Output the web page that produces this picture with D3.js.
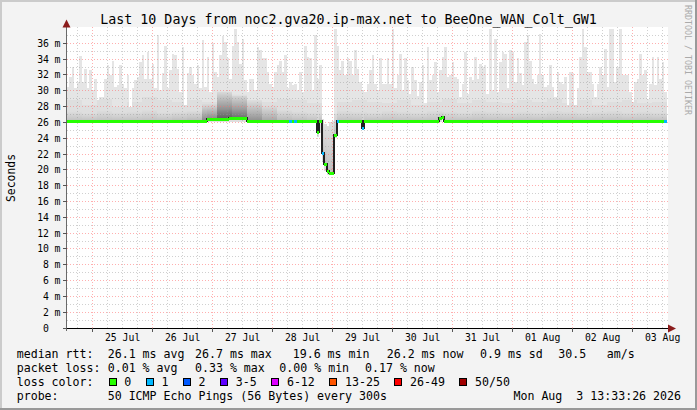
<!DOCTYPE html>
<html>
<head>
<meta charset="utf-8">
<script src="https://d3js.org/d3.v7.min.js"></script>
<style>
  body { margin: 0; background: #f3f3f3; }
  text { font-family: "DejaVu Sans Mono", monospace; }
</style>
</head>
<body>
<svg id="chart"></svg>
<script>
// ---- data (values in ms, one bar per hour) ----
var smokeMax = [
  30.5, 31.7, 33.0, 30.3, 31.1, 34.4, 31.1, 32.8, 30.3, 32.6, 30.1, 31.5, 28.8, 29.2, 29.2, 31.5, 33.3, 32.0, 33.8, 30.5,
  30.7, 33.2, 30.9, 30.3, 32.0, 28.0, 30.3, 31.3, 31.7, 33.6, 34.5, 31.5, 34.9, 31.5, 33.4, 30.3, 37.0, 30.1, 32.2, 35.7,
  30.3, 32.6, 34.7, 34.5, 32.8, 29.9, 35.5, 28.2, 32.2, 33.0, 32.0, 30.9, 33.2, 30.3, 36.4, 30.5, 34.3, 29.9, 36.0, 32.4,
  31.7, 34.5, 36.9, 36.2, 34.1, 31.5, 35.7, 37.8, 36.2, 33.4, 36.6, 31.3, 29.9, 31.5, 31.5, 30.1, 35.5, 35.1, 34.1, 34.1,
  32.4, 30.9, 30.5, 32.4, 33.2, 33.8, 32.4, 34.5, 30.3, 31.1, 30.7, 30.9, 30.1, 32.4, 29.9, 35.7, 34.3, 34.1, 30.1, 37.0,
  31.5, 33.2, 26.4, 25.8, 25.6, 26.0, 26.2, 37.8, 35.7, 32.6, 33.8, 32.0, 34.1, 33.8, 32.0, 35.1, 32.8, 31.1, 30.1, 29.9,
  30.9, 32.6, 34.5, 30.9, 30.1, 34.1, 30.9, 30.9, 34.1, 30.9, 37.8, 30.3, 32.0, 34.7, 30.1, 34.1, 31.3, 29.6, 33.0, 31.3,
  29.4, 31.1, 33.2, 28.4, 35.5, 31.3, 32.0, 33.6, 29.9, 32.6, 34.3, 35.5, 31.7, 32.0, 33.6, 31.7, 31.5, 29.2, 30.9, 34.9,
  29.6, 31.7, 31.3, 34.3, 31.5, 33.4, 33.0, 33.2, 29.6, 37.8, 30.1, 36.6, 29.9, 33.6, 34.9, 34.7, 30.3, 35.1, 34.9, 31.1,
  34.1, 32.2, 30.7, 36.2, 37.0, 33.8, 31.5, 30.9, 32.0, 37.2, 32.0, 30.5, 30.7, 33.2, 30.5, 29.2, 32.4, 31.1, 30.9, 31.7,
  28.2, 32.4, 32.2, 28.2, 30.3, 34.3, 37.8, 35.5, 32.4, 32.4, 30.9, 29.2, 30.9, 33.0, 32.0, 35.3, 30.5, 37.8, 37.8, 31.1,
  33.0, 37.8, 32.0, 32.0, 32.0, 29.9, 28.6, 31.1, 31.5, 34.7, 32.0, 32.6, 29.0, 30.9, 34.3, 30.7, 34.3, 31.5, 33.6, 29.9
];

var smokeMin = [
  25.9, 25.9, 25.9, 25.9, 25.9, 25.9, 25.9, 25.9, 25.9, 25.9, 25.9, 25.9, 25.9, 25.9, 25.9, 25.9, 25.9, 25.9, 25.9, 25.9,
  25.9, 25.9, 25.9, 25.9, 25.9, 25.9, 25.9, 25.9, 25.9, 25.9, 25.9, 25.9, 25.9, 25.9, 25.9, 25.9, 25.9, 25.9, 25.9, 25.9,
  25.9, 25.9, 25.9, 25.9, 25.9, 25.9, 25.9, 25.9, 25.9, 25.9, 25.9, 25.9, 25.9, 25.9, 25.9, 25.9, 26.0, 26.0, 26.0, 26.0,
  26.0, 26.0, 26.0, 26.0, 26.0, 26.1, 26.1, 26.1, 26.1, 26.1, 26.1, 26.1, 25.9, 25.9, 25.9, 25.9, 25.9, 25.9, 25.9, 25.9,
  25.9, 25.9, 25.9, 25.9, 25.9, 25.9, 25.9, 25.9, 25.9, 25.9, 25.9, 25.9, 25.9, 25.9, 25.9, 25.9, 25.9, 25.9, 25.9, 25.9,
  24.2, 24.6, 21.0, 19.9, 19.4, 19.3, 19.4, 24.0, 25.9, 25.9, 25.9, 25.9, 25.9, 25.9, 25.9, 25.9, 25.9, 25.9, 25.0, 25.9,
  25.9, 25.9, 25.9, 25.9, 25.9, 25.9, 25.9, 25.9, 25.9, 25.9, 25.9, 25.9, 25.9, 25.9, 25.9, 25.9, 25.9, 25.9, 25.9, 25.9,
  25.9, 25.9, 25.9, 25.9, 25.9, 25.9, 25.9, 25.9, 25.9, 26.1, 26.3, 25.9, 25.9, 25.9, 25.9, 25.9, 25.9, 25.9, 25.9, 25.9,
  25.9, 25.9, 25.9, 25.9, 25.9, 25.9, 25.9, 25.9, 25.9, 25.9, 25.9, 25.9, 25.9, 25.9, 25.9, 25.9, 25.9, 25.9, 25.9, 25.9,
  25.9, 25.9, 25.9, 25.9, 25.9, 25.9, 25.9, 25.9, 25.9, 25.9, 25.9, 25.9, 25.9, 25.9, 25.9, 25.9, 25.9, 25.9, 25.9, 25.9,
  25.9, 25.9, 25.9, 25.9, 25.9, 25.9, 25.9, 25.9, 25.9, 25.9, 25.9, 25.9, 25.9, 25.9, 25.9, 25.9, 25.9, 25.9, 25.9, 25.9,
  25.9, 25.9, 25.9, 25.9, 25.9, 25.9, 25.9, 25.9, 25.9, 25.9, 25.9, 25.9, 25.9, 25.9, 25.9, 25.9, 25.9, 25.9, 25.9, 25.9
];

var median = [
  26.2, 26.2, 26.2, 26.2, 26.2, 26.2, 26.2, 26.2, 26.2, 26.2, 26.2, 26.2, 26.2, 26.2, 26.2, 26.2, 26.2, 26.2, 26.2, 26.2,
  26.2, 26.2, 26.2, 26.2, 26.2, 26.2, 26.2, 26.2, 26.2, 26.2, 26.2, 26.2, 26.2, 26.2, 26.2, 26.2, 26.2, 26.2, 26.2, 26.2,
  26.2, 26.2, 26.2, 26.2, 26.2, 26.2, 26.2, 26.2, 26.2, 26.2, 26.2, 26.2, 26.2, 26.2, 26.2, 26.2, 26.4, 26.4, 26.4, 26.4,
  26.4, 26.4, 26.4, 26.4, 26.4, 26.5, 26.5, 26.5, 26.5, 26.5, 26.5, 26.5, 26.2, 26.2, 26.2, 26.2, 26.2, 26.2, 26.2, 26.2,
  26.2, 26.2, 26.2, 26.2, 26.2, 26.2, 26.2, 26.2, 26.2, 26.2, 26.2, 26.2, 26.2, 26.2, 26.2, 26.2, 26.2, 26.2, 26.2, 26.2,
  24.8, 26.2, 22.1, 20.7, 19.8, 19.6, 19.6, 24.4, 26.2, 26.2, 26.2, 26.2, 26.2, 26.2, 26.2, 26.2, 26.2, 26.2, 25.3, 26.2,
  26.2, 26.2, 26.2, 26.2, 26.2, 26.2, 26.2, 26.2, 26.2, 26.2, 26.2, 26.2, 26.2, 26.2, 26.2, 26.2, 26.2, 26.2, 26.2, 26.2,
  26.2, 26.2, 26.2, 26.2, 26.2, 26.2, 26.2, 26.2, 26.2, 26.5, 26.7, 26.2, 26.2, 26.2, 26.2, 26.2, 26.2, 26.2, 26.2, 26.2,
  26.2, 26.2, 26.2, 26.2, 26.2, 26.2, 26.2, 26.2, 26.2, 26.2, 26.2, 26.2, 26.2, 26.2, 26.2, 26.2, 26.2, 26.2, 26.2, 26.2,
  26.2, 26.2, 26.2, 26.2, 26.2, 26.2, 26.2, 26.2, 26.2, 26.2, 26.2, 26.2, 26.2, 26.2, 26.2, 26.2, 26.2, 26.2, 26.2, 26.2,
  26.2, 26.2, 26.2, 26.2, 26.2, 26.2, 26.2, 26.2, 26.2, 26.2, 26.2, 26.2, 26.2, 26.2, 26.2, 26.2, 26.2, 26.2, 26.2, 26.2,
  26.2, 26.2, 26.2, 26.2, 26.2, 26.2, 26.2, 26.2, 26.2, 26.2, 26.2, 26.2, 26.2, 26.2, 26.2, 26.2, 26.2, 26.2, 26.2, 26.2
];

// lost pings per bar
var loss = [
  0, 0, 0, 0, 0, 0, 0, 0, 0, 0, 0, 0, 0, 0, 0, 0, 0, 0, 0, 0,
  0, 0, 0, 0, 0, 0, 0, 0, 0, 0, 0, 0, 0, 0, 0, 0, 0, 0, 0, 0,
  0, 0, 0, 0, 0, 0, 0, 0, 0, 0, 0, 0, 0, 0, 0, 0, 0, 0, 0, 0,
  0, 0, 0, 0, 0, 0, 0, 0, 0, 0, 0, 0, 0, 0, 0, 0, 0, 0, 0, 0,
  0, 0, 0, 0, 0, 0, 0, 0, 0, 1, 0, 1, 0, 0, 0, 0, 0, 0, 0, 0,
  0, 0, 1, 0, 0, 0, 0, 0, 1, 0, 0, 0, 0, 0, 0, 0, 0, 0, 1, 0,
  0, 0, 0, 0, 0, 0, 0, 0, 0, 0, 0, 0, 0, 0, 0, 0, 0, 0, 0, 0,
  0, 0, 0, 0, 0, 0, 0, 0, 0, 0, 0, 0, 0, 0, 0, 0, 0, 0, 0, 0,
  0, 0, 0, 0, 0, 0, 0, 0, 0, 0, 0, 0, 0, 0, 0, 0, 0, 0, 0, 0,
  0, 0, 0, 0, 0, 0, 0, 0, 0, 0, 0, 0, 0, 0, 0, 0, 0, 0, 0, 0,
  0, 0, 0, 0, 0, 0, 0, 0, 0, 0, 0, 0, 0, 0, 0, 0, 0, 0, 0, 0,
  0, 0, 0, 0, 0, 0, 0, 0, 0, 0, 0, 0, 0, 0, 0, 0, 0, 0, 0, 1
];

// inner smoke, one value per 6 hours
var smokeMid = [
  28.8, 28.2, 29.0, 28.0, 28.6, 29.2, 28.8, 28.6, 28.8, 28.6,
  29.9, 29.4, 28.8, 28.6, 29.0, 28.8, 28.4, 27.0, 28.6, 28.8,
  28.6, 28.4, 28.8, 28.2, 28.6, 29.0, 28.4, 28.8, 28.6, 28.4,
  28.8, 28.6, 29.0, 28.4, 28.8, 28.2, 28.6, 28.8, 28.4, 28.6
];
var smokeCore = [
  27.4, 27.2, 27.5, 27.3, 27.4, 27.6, 27.3, 27.4, 27.5, 28.4,
  30.0, 29.6, 28.8, 28.2, 27.6, 27.4, 27.3, 27.3, 27.5, 27.4,
  27.3, 27.5, 27.4, 27.3, 27.5, 27.4, 27.3, 27.5, 27.4, 27.3,
  27.4, 27.3, 27.5, 27.4, 27.3, 27.4, 27.5, 27.3, 27.4, 27.3
];
var coreShade = [
  0.14, 0.14, 0.14, 0.14, 0.14, 0.14, 0.14, 0.16, 0.18, 0.40,
  0.58, 0.52, 0.36, 0.26, 0.18, 0.16, 0.14, 0.14, 0.14, 0.14,
  0.14, 0.14, 0.14, 0.14, 0.14, 0.14, 0.14, 0.14, 0.14, 0.14,
  0.14, 0.14, 0.14, 0.14, 0.14, 0.14, 0.14, 0.14, 0.14, 0.14
];

var lossLabels = ["0", "1", "2", "3-5", "6-12", "13-25", "26-49", "50/50"];
var lossColors = ["#26ff00", "#00b8ff", "#0059ff", "#5e00ff", "#dd00ff", "#ff5500", "#ff0000", "#a10000"];
var lossUpper  = [0, 1, 2, 5, 12, 25, 49, 50];

var titleText = "Last 10 Days from noc2.gva20.ip-max.net to BeeOne_WAN_Colt_GW1";
var rttStats  = ["median rtt:", "26.1 ms avg", "26.7 ms max", "19.6 ms min", "26.2 ms now", "0.9 ms sd", "30.5", "am/s"];
var lossStats = ["packet loss:", "0.01 % avg", "0.33 % max", "0.00 % min", "0.17 % now"];
var probeText = ["probe:", "50 ICMP Echo Pings (56 Bytes) every 300s", "Mon Aug  3 13:33:26 2026"];

var tStart = new Date(Date.UTC(2026, 6, 24, 13, 33, 26));
var tEnd   = new Date(Date.UTC(2026, 7, 3, 13, 33, 26));
var yTicks = d3.range(0, 37, 2);

// ---- layout ----
var W = 697, H = 410;
var svg = d3.select("#chart").attr("width", W).attr("height", H);

var x = d3.scaleUtc().domain([tStart, tEnd]).range([66.5, 666.5]);
var y = d3.scaleLinear().domain([0, 38]).range([328, 27.5]);

function px(v) { return Math.floor(v) + 0.5; }
function lossColor(l) {
  for (var k = 0; k < lossUpper.length; k++) if (l <= lossUpper[k]) return lossColors[k];
  return lossColors[lossColors.length - 1];
}

// frame
svg.append("rect").attr("width", W).attr("height", H).attr("fill", "#f3f3f3");
svg.append("path").attr("d", "M1,409V1H697").attr("fill", "none").attr("stroke", "#cbcbcb").attr("stroke-width", 2);
svg.append("path").attr("d", "M0,409H696V0").attr("fill", "none").attr("stroke", "#999").attr("stroke-width", 2);

// canvas
svg.append("rect").attr("x", 67).attr("y", 27).attr("width", 601).attr("height", 301).attr("fill", "#fff");

// smoke
var bars = d3.range(smokeMax.length).map(function(i) {
  var t0 = d3.utcHour.offset(tStart, i), t1 = d3.utcHour.offset(tStart, i + 1);
  var s = Math.floor(i / 6);
  return {
    i: i, x0: Math.round(x(t0)), x1: Math.round(x(t1)),
    max: smokeMax[i], min: smokeMin[i], med: median[i],
    mid: Math.min(smokeMid[s], smokeMax[i]),
    core: Math.min(smokeCore[s], smokeMax[i]),
    seg: s, loss: loss[i]
  };
});

var defs = svg.append("defs");
smokeCore.forEach(function(c, s) {
  var g = defs.append("linearGradient").attr("id", "core" + s)
    .attr("x1", 0).attr("y1", 1).attr("x2", 0).attr("y2", 0);
  g.append("stop").attr("offset", 0).attr("stop-color", "#000").attr("stop-opacity", coreShade[s]);
  g.append("stop").attr("offset", 0.35).attr("stop-color", "#000").attr("stop-opacity", coreShade[s] * 0.6);
  g.append("stop").attr("offset", 1).attr("stop-color", "#000").attr("stop-opacity", 0);
});

var smoke = svg.append("g").attr("shape-rendering", "crispEdges");
smoke.selectAll("rect.outer").data(bars).enter().append("rect")
  .attr("x", function(d) { return d.x0; })
  .attr("width", function(d) { return d.x1 - d.x0; })
  .attr("y", function(d) { return y(d.max); })
  .attr("height", function(d) { return y(d.min) - y(d.max); })
  .attr("fill", "#e5e5e5");
smoke.selectAll("rect.mid").data(bars).enter().append("rect")
  .attr("x", function(d) { return d.x0; })
  .attr("width", function(d) { return d.x1 - d.x0; })
  .attr("y", function(d) { return y(d.mid); })
  .attr("height", function(d) { return Math.max(0, y(d.min) - y(d.mid)); })
  .attr("fill", "#dedede");
smoke.selectAll("rect.core").data(bars.filter(function(d) { return d.core > d.med; })).enter().append("rect")
  .attr("x", function(d) { return d.x0; })
  .attr("width", function(d) { return d.x1 - d.x0; })
  .attr("y", function(d) { return y(d.core); })
  .attr("height", function(d) { return y(d.med) - y(d.core); })
  .attr("fill", function(d) { return "url(#core" + d.seg + ")"; });

// grid
var grid = svg.append("g").attr("shape-rendering", "crispEdges").attr("stroke-width", 1);
var hours = d3.utcHour.every(6).range(tStart, tEnd);
var days = d3.utcDay.range(tStart, tEnd);
grid.selectAll("line.vmin").data(hours.filter(function(t) { return t.getUTCHours() !== 0; })).enter().append("line")
  .attr("x1", function(t) { return px(x(t)); }).attr("x2", function(t) { return px(x(t)); })
  .attr("y1", 27).attr("y2", 328)
  .attr("stroke", "rgba(150,150,150,0.45)").attr("stroke-dasharray", "1,2");
d3.range(1, 38).filter(function(m) { return m % 2 === 1; }).forEach(function(m) {
  grid.append("line").attr("x1", 67).attr("x2", 668).attr("y1", px(y(m))).attr("y2", px(y(m)))
    .attr("stroke", "rgba(150,150,150,0.45)").attr("stroke-dasharray", "1,2");
});
grid.selectAll("line.vmaj").data(days).enter().append("line")
  .attr("x1", function(t) { return px(x(t)); }).attr("x2", function(t) { return px(x(t)); })
  .attr("y1", 27).attr("y2", 328)
  .attr("stroke", "rgba(255,110,110,0.55)").attr("stroke-dasharray", "1,2");
grid.selectAll("line.hmaj").data(yTicks.filter(function(m) { return m > 0; })).enter().append("line")
  .attr("x1", 67).attr("x2", 668)
  .attr("y1", function(m) { return px(y(m)); }).attr("y2", function(m) { return px(y(m)); })
  .attr("stroke", "rgba(255,110,110,0.55)").attr("stroke-dasharray", "1,2");

// median: thin dark step line, then thick loss-coloured pieces
var stepLine = d3.line().curve(d3.curveStepAfter)
  .x(function(d) { return d.x0; }).y(function(d) { return y(d.med); });
svg.append("path").datum(bars.concat([{ x0: bars[bars.length - 1].x1, med: median[median.length - 1] }]))
  .attr("d", stepLine).attr("fill", "none").attr("stroke", "#202020").attr("stroke-width", 2)
  .attr("shape-rendering", "crispEdges");
svg.append("g").attr("shape-rendering", "crispEdges").selectAll("rect").data(bars).enter().append("rect")
  .attr("x", function(d) { return d.x0; })
  .attr("width", function(d) { return d.x1 - d.x0; })
  .attr("y", function(d) { return Math.round(y(d.med)) - 1.5; })
  .attr("height", 3)
  .attr("fill", function(d) { return lossColor(d.loss); });

// axes
var axes = svg.append("g").attr("shape-rendering", "crispEdges");
axes.append("line").attr("x1", 66.5).attr("x2", 66.5).attr("y1", 331).attr("y2", 24).attr("stroke", "#6a6a6a");
axes.append("line").attr("x1", 63).attr("x2", 669).attr("y1", 328.5).attr("y2", 328.5).attr("stroke", "#000");
svg.append("path").attr("d", "M62.5,27.5L66.5,19.5L70.5,27.5Z").attr("fill", "#8b1c1c");
svg.append("path").attr("d", "M668,324.5L676,328.5L668,332.5Z").attr("fill", "#8b1c1c");

axes.selectAll("line.yt").data(yTicks).enter().append("line")
  .attr("x1", 63).attr("x2", 67)
  .attr("y1", function(m) { return px(y(m)); }).attr("y2", function(m) { return px(y(m)); })
  .attr("stroke", "#555");
axes.selectAll("line.xt").data(days).enter().append("line")
  .attr("x1", function(t) { return px(x(t)); }).attr("x2", function(t) { return px(x(t)); })
  .attr("y1", 328).attr("y2", 332).attr("stroke", "#555");

var yLab = svg.append("g").attr("font-size", "9.8px").attr("fill", "#000");
yLab.selectAll("text.n").data(yTicks).enter().append("text")
  .attr("x", 49).attr("y", function(m) { return y(m) + 3.5; })
  .attr("text-anchor", "end").text(function(m) { return m; });
yLab.selectAll("text.u").data(yTicks.filter(function(m) { return m > 0; })).enter().append("text")
  .attr("x", 54.5).attr("y", function(m) { return y(m) + 3.5; }).text("m");

var labDays = days.map(function(t) { return d3.utcHour.offset(t, 12); });
svg.append("g").attr("font-size", "9.8px").selectAll("text").data(labDays).enter().append("text")
  .attr("x", function(t) { return x(t); }).attr("y", 340.5)
  .attr("text-anchor", "middle").text(d3.utcFormat("%d %b"));

// titles
svg.append("text").attr("x", W / 2).attr("y", 23.5).attr("text-anchor", "middle")
  .attr("font-size", "13.3px").text(titleText);
svg.append("text").attr("transform", "translate(15,178) rotate(-90)").attr("text-anchor", "middle")
  .attr("font-size", "11.4px").text("Seconds");
svg.append("text").attr("transform", "translate(685,5) rotate(90)")
  .attr("font-size", "8.3px").attr("fill", "#aaa").text("RRDTOOL / TOBI OETIKER");

// legend
var leg = svg.append("g").attr("font-size", "11.6px").attr("fill", "#000");
function legText(s, xx, yy) {
  return leg.append("text").attr("x", xx).attr("y", yy)
    .attr("xml:space", "preserve").style("white-space", "pre").text(s);
}
var rttX = [16.7, 107.7, 195, 292.7, 386.7, 480, 558.3, 606.7];
rttStats.forEach(function(s, k) { legText(s, rttX[k], 357.5); });
var lossX = [16.7, 107.7, 195, 279.3, 365];
lossStats.forEach(function(s, k) { legText(s, lossX[k], 371.8); });
legText("loss color:", 16.7, 386);
var bx = 108.5;
lossLabels.forEach(function(lab, k) {
  leg.append("rect").attr("x", Math.round(bx) + 0.5).attr("y", 378.5).attr("width", 7).attr("height", 7)
    .attr("fill", lossColors[k]).attr("stroke", "#000").attr("shape-rendering", "crispEdges");
  legText(lab, bx + 15.7, 386);
  bx += 37.2 + 6.96 * (lab.length - 1);
});
legText(probeText[0], 16.7, 400.2);
legText(probeText[1], 107.7, 400.2);
legText(probeText[2], 681, 400.2).attr("text-anchor", "end");
</script>
</body>
</html>
